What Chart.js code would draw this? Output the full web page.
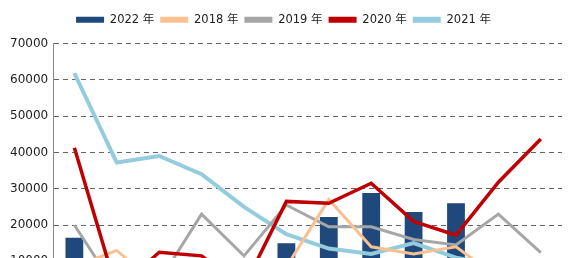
<!DOCTYPE html>
<html>
<head>
<meta charset="utf-8">
<script src="https://cdn.jsdelivr.net/npm/chart.js@4/dist/chart.umd.min.js"></script>
<style>
  html, body { margin: 0; padding: 0; background: #fff; overflow: hidden; }
  #wrap { width: 575px; height: 330px; }
</style>
</head>
<body>
<div id="wrap"><canvas id="chart" width="575" height="330"></canvas></div>
<script>
// ── Datos ────────────────────────────────────────────────────────────────
const MESES = ["1月","2月","3月","4月","5月","6月","7月","8月","9月","10月","11月","12月"];

const V2022 = [16500, 7000, 5000, 8000, 6000, 15000, 22200, 28800, 23600, 26000, null, null];
const V2018 = [8500, 13000, 3000, 5000, 6000, 8500, 27000, 14000, 12000, 14000, 5500, 6000];
const V2019 = [20000, 2000, 4500, 23000, 11500, 25500, 19500, 19500, 16000, 14500, 23000, 12400];
const V2020 = [41300, 2000, 12500, 11500, 3000, 26500, 26000, 31500, 21000, 17200, 31800, 43700];
const V2021 = [61800, 37200, 39000, 34000, 25000, 17500, 13500, 12000, 15000, 11000, 9000, 8000];

const Y_TICKS = [0, 10000, 20000, 30000, 40000, 50000, 60000, 70000];

const COLORES = ["#1F497D", "#FAC090", "#A6A6A6", "#C00000", "#93CDDD"];
const FONT = "'DejaVu Sans', 'Noto Sans CJK SC', sans-serif";

// ── Helpers ──────────────────────────────────────────────────────────────
const linea = (label, data, color, order, ancho = 3) => ({
  type: "line",
  label,
  data,
  borderColor: color,
  backgroundColor: color,
  borderWidth: ancho,
  pointRadius: 0,
  tension: 0,
  order,
});

// ajuste vertical de la leyenda
const LEG_DY = -8;
const moverLeyenda = {
  id: "moverLeyenda",
  afterLayout(chart) {
    const l = chart.legend;
    if (!l) return;
    l.top += LEG_DY; l.bottom += LEG_DY;
  },
};

// ── Grafica ──────────────────────────────────────────────────────────────
new Chart(document.getElementById("chart"), {
  data: {
    labels: MESES,
    datasets: [
      {
        type: "bar",
        label: "2022 年",
        data: V2022,
        backgroundColor: COLORES[0],
        borderWidth: 0,
        barPercentage: 0.42,
        categoryPercentage: 1.0,
        order: 10,
      },
      linea("2018 年", V2018, COLORES[1], 2),
      linea("2019 年", V2019, COLORES[2], 3),
      linea("2020 年", V2020, COLORES[3], 1, 3.5),
      linea("2021 年", V2021, COLORES[4], 4, 4),
    ],
  },
  options: {
    responsive: false,
    animation: false,
    layout: { padding: { top: 16, left: 5, right: 13, bottom: 4 } },
    plugins: {
      tooltip: { enabled: false },
      legend: {
        position: "top",
        labels: {
          boxWidth: 28,
          boxHeight: 6,
          padding: 6,
          color: "#222",
          font: { family: FONT, size: 11.5 },
          generateLabels: (chart) => {
            const items = Chart.defaults.plugins.legend.labels.generateLabels(chart);
            items.sort((a, b) => a.datasetIndex - b.datasetIndex);
            return items.map((it) => ({
              ...it,
              fillStyle: COLORES[it.datasetIndex],
              strokeStyle: COLORES[it.datasetIndex],
              lineWidth: 0,
            }));
          },
        },
      },
    },
    scales: {
      x: {
        grid: { display: false },
        border: { color: "#888" },
        ticks: { color: "#222", font: { family: FONT, size: 12 } },
      },
      y: {
        min: 0,
        max: 70000,
        afterBuildTicks: (axis) => { axis.ticks = Y_TICKS.map((v) => ({ value: v })); },
        grid: { color: "#666", drawTicks: false },
        border: { color: "#888", dash: [5, 4] },
        ticks: {
          color: "#222",
          padding: 5,
          font: { family: FONT, size: 12 },
          callback: (v) => String(v),
        },
      },
    },
  },
  plugins: [moverLeyenda],
});
</script>
</body>
</html>
